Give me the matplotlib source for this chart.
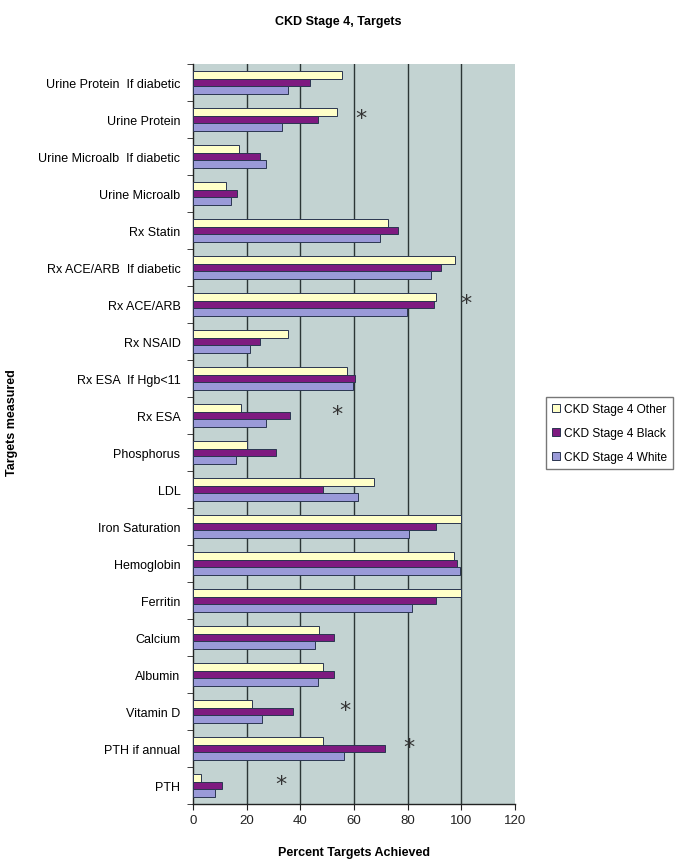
import matplotlib
matplotlib.use('Agg')
import matplotlib.pyplot as plt
import numpy as np

plt.rcParams['font.family'] = ['Liberation Sans Narrow', 'Liberation Sans', 'DejaVu Sans']

# categories listed top to bottom as in the chart
targets = ['Urine Protein  If diabetic', 'Urine Protein', 'Urine Microalb  If diabetic',
           'Urine Microalb', 'Rx Statin', 'Rx ACE/ARB  If diabetic', 'Rx ACE/ARB',
           'Rx NSAID', 'Rx ESA  If Hgb<11', 'Rx ESA', 'Phosphorus', 'LDL',
           'Iron Saturation', 'Hemoglobin', 'Ferritin', 'Calcium', 'Albumin',
           'Vitamin D', 'PTH if annual', 'PTH']
other = [55.4, 53.5, 17, 12.3, 72.5, 97.5, 90.4, 35.4, 57.5, 18, 20, 67.3,
         100, 97.3, 100, 47, 48.3, 21.9, 48.3, 3]
black = [43.5, 46.4, 25.1, 16.3, 76.4, 92.3, 89.8, 25.1, 60.4, 36.1, 31, 48.3,
         90.4, 98.5, 90.4, 52.4, 52.4, 37.4, 71.6, 10.9]
white = [35.4, 33.1, 27.3, 14.3, 69.5, 88.5, 79.8, 21.4, 59.5, 27.3, 16.1, 61.3,
         80.5, 99.3, 81.4, 45.3, 46.4, 25.8, 56.1, 8.1]
series_names = ['CKD Stage 4 Other', 'CKD Stage 4 Black', 'CKD Stage 4 White']
# significance markers: (target, x position)
stars = [('Urine Protein', 62.6), ('Rx ACE/ARB', 101.6), ('Rx ESA', 53.6),
         ('Vitamin D', 56.5), ('PTH if annual', 80.5), ('PTH', 32.9)]

colors = ['#ffffc8', '#7e1a80', '#9a9ad8']

fig = plt.figure(figsize=(6.77, 8.62), dpi=100)
ax = fig.add_axes([0.285, 0.0661, 0.476, 0.8585])
ax.set_facecolor('#c3d3d2')

n = len(targets)
y = np.arange(n)[::-1]
h = 0.215
for i, (vals, c, name) in enumerate(zip([other, black, white], colors, series_names)):
    ax.barh(y + (1 - i) * h, vals, height=h, color=c, edgecolor='#2a3550',
            linewidth=0.7, label=name, zorder=3)

for name, xs in stars:
    yi = y[targets.index(name)]
    ax.text(xs, yi + 0.05, '*', fontsize=16, ha='center', va='center',
            color='#333333', family='DejaVu Sans', zorder=4)

ax.set_xlim(0, 120)
ax.set_ylim(-0.5, n - 0.5)
ax.set_xticks(range(0, 121, 20))
ax.tick_params(axis='x', labelsize=9.5, length=4, direction='out', colors='#222222')
ax.set_yticks(y)
ax.set_yticklabels(targets, fontsize=9)
ax.tick_params(axis='y', length=0, pad=9)
ax.set_yticks(np.arange(-0.5, n, 1), minor=True)
ax.tick_params(axis='y', which='minor', length=4, direction='out', color='#222222')

for xv in range(20, 101, 20):
    ax.axvline(xv, color='#2b3535', linewidth=1.0, zorder=1)

for s in ['top', 'right']:
    ax.spines[s].set_visible(False)
for s in ['left', 'bottom']:
    ax.spines[s].set_color('#222222')
    ax.spines[s].set_linewidth(1.0)

ax.set_xlabel('Percent Targets Achieved', fontsize=9, fontweight='bold',
              family=['Liberation Sans', 'DejaVu Sans'], labelpad=14)
fig.text(0.018, 0.51, 'Targets measured', rotation=90, fontsize=9, fontweight='bold',
         family=['Liberation Sans', 'DejaVu Sans'], ha='center', va='center')
fig.text(0.5, 0.975, 'CKD Stage 4, Targets', fontsize=9, fontweight='bold',
         ha='center', va='center')

lgd = ax.legend(loc='center left', bbox_to_anchor=(1.095, 0.501), fontsize=8.6,
                frameon=True, fancybox=False, edgecolor='#555555', handlelength=0.7,
                handleheight=0.7, handletextpad=0.3, borderpad=0.5, labelspacing=1.0,
                borderaxespad=0)
lgd.get_frame().set_linewidth(1.0)

fig.savefig('out.png', dpi=100)
